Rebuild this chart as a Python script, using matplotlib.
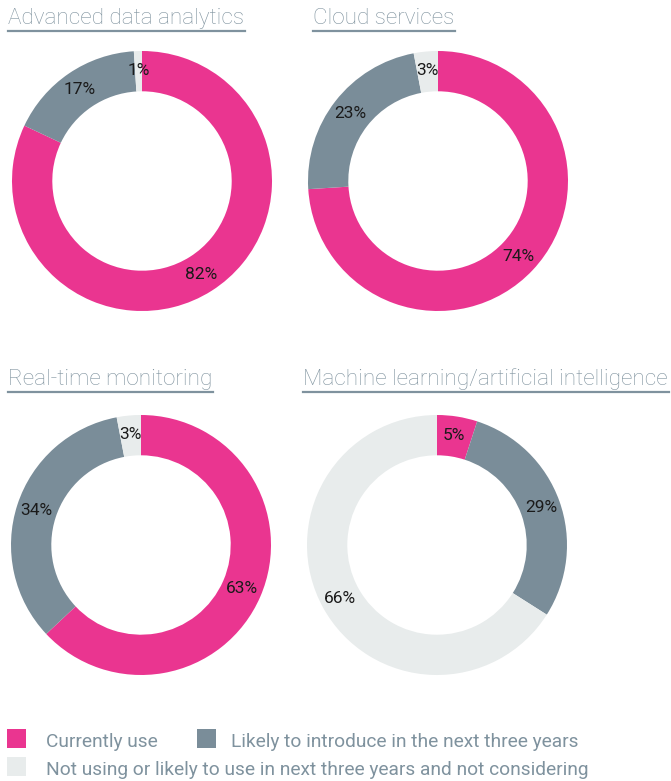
import matplotlib
matplotlib.use("Agg")
import numpy as np
import matplotlib.pyplot as plt
from matplotlib.patches import Rectangle
from matplotlib.lines import Line2D

titles = ["Advanced data analytics", "Cloud services", "Real-time monitoring",
          "Machine learning/artificial intelligence"]
currently_use = [82, 74, 63, 5]
likely_introduce = [17, 23, 34, 29]
not_considering = [1, 3, 3, 66]
legend_labels = ["Currently use", "Likely to introduce in the next three years",
                 "Not using or likely to use in next three years and not considering"]

colors = ["#ea3590", "#7a8d99", "#e8ecec"]
title_color = "#7f929e"
plt.rcParams['font.family'] = ['Roboto', 'DejaVu Sans']

W, H = 671, 781
fig = plt.figure(figsize=(W / 100, H / 100), dpi=100)

def fx(x):
    return x / W

def fy(y):
    return 1 - y / H

centers = [(142, 181), (438, 181), (141, 545), (437, 545)]
title_pos = [(8, 24), (313, 24), (8, 385), (303, 385)]
R = 130

for i in range(4):
    cx, cy = centers[i]
    ax = fig.add_axes([fx(cx - R), fy(cy + R), 2 * R / W, 2 * R / H])
    vals = [currently_use[i], likely_introduce[i], not_considering[i]]
    ax.pie(vals, colors=colors, startangle=90, counterclock=False,
           radius=1, wedgeprops=dict(width=0.31, linewidth=0))
    total = sum(vals)
    start = 90.0
    for v in vals:
        ang = start - v / total * 360 / 2
        start -= v / total * 360
        r = 0.85
        ax.text(r * np.cos(np.radians(ang)), r * np.sin(np.radians(ang)), f"{v}%",
                ha="center", va="center", fontsize=12.5, color="#1a1a1a")
    ax.set_xlim(-1, 1)
    ax.set_ylim(-1, 1)
    ax.axis("off")

    tx, ty = title_pos[i]
    t = fig.text(fx(tx), fy(ty), titles[i], fontsize=16.2, color=title_color,
                 ha="left", va="baseline", fontweight="light")
    fig.canvas.draw()
    bb = t.get_window_extent()
    fig.add_artist(Line2D([fx(tx), (bb.x1 + 1) / W], [fy(ty + 7), fy(ty + 7)],
                          color=title_color, linewidth=1.6, transform=fig.transFigure))

# legend
leg_items = [(7, 729, 46, 747), (197, 729, 231, 747), (7, 757, 46, 775)]
for (sx, sy, tx, ty), col, lab in zip(leg_items, colors, legend_labels):
    fig.add_artist(Rectangle((fx(sx), fy(sy + 19)), 19 / W, 19 / H, color=col,
                             linewidth=0, transform=fig.transFigure))
    fig.text(fx(tx), fy(ty), lab, fontsize=13.8, color=title_color, ha="left",
             va="baseline")

fig.savefig("out.png", dpi=100)
